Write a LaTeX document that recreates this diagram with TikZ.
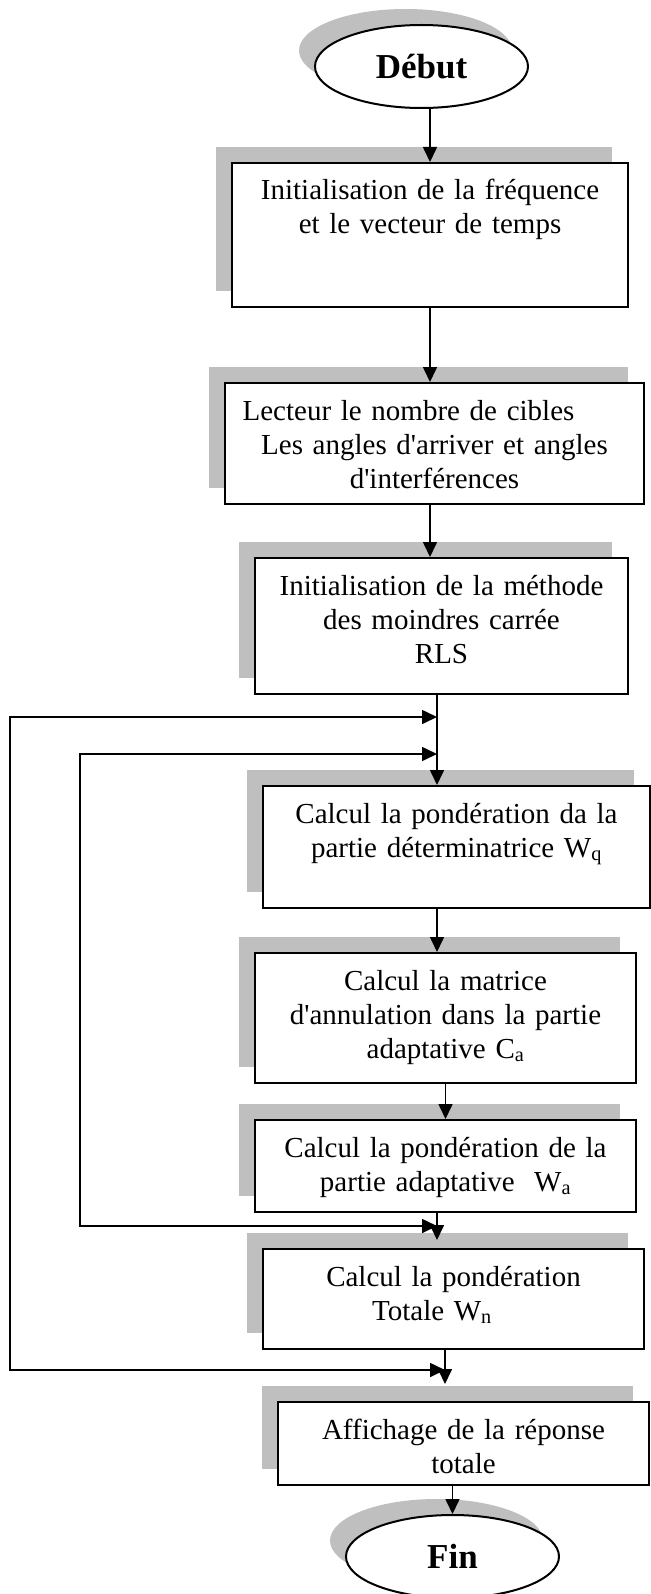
\documentclass[tikz,border=0pt]{standalone}
\usepackage{fontspec}
\setmainfont{Liberation Serif}
\usetikzlibrary{arrows.meta,shapes.geometric,shadows}

\tikzset{
  stage/.style={draw, fill=white, line width=2pt, anchor=north west, align=center,
    inner xsep=0pt, inner ysep=0pt, text height=37pt,
    font=\fontsize{29}{34}\selectfont,
    drop shadow={shadow xshift=-16pt, shadow yshift=16pt, fill=black!25, opacity=1}},
  terminal/.style={ellipse, draw, fill=white, line width=2pt, inner sep=0pt,
    minimum width=213pt, minimum height=83pt,
    font=\fontsize{35}{40}\selectfont\bfseries,
    drop shadow={shadow xshift=-16pt, shadow yshift=16pt, fill=black!25, opacity=1}}
}

\begin{document}
\begin{tikzpicture}[x=1pt, y=-1pt, line width=1.6pt, >={Triangle[length=15pt,width=14pt]}]
\useasboundingbox (0,0) rectangle (650,1594);
\node[terminal] (debut) at (421.5,66.5) {Début};
\node[stage, text width=396pt, text depth=107pt] (init) at (231,162) {Initialisation de la fréquence\\ et le vecteur de temps};
\node[stage, text width=419pt, text depth=84pt] (lecture) at (224,382) {Lecteur le nombre de cibles\rule{52pt}{0pt}\\ Les angles d\textquotesingle arriver et angles\\ d\textquotesingle interférences};
\node[stage, text width=373pt, text depth=99pt] (rls) at (254,557) {Initialisation de la méthode\\ des moindres carrée\\ RLS};
\node[stage, text width=387pt, text depth=85pt] (wq) at (262,785) {Calcul la pondération da la\\ partie déterminatrice W\textsubscript{q}};
\node[stage, text width=381pt, text depth=93pt] (ca) at (254,952) {Calcul la matrice\\ d\textquotesingle annulation dans la partie\\ adaptative C\textsubscript{a}};
\node[stage, text width=381pt, text depth=55pt] (wa) at (254,1119) {Calcul la pondération de la\\ partie adaptative~~W\textsubscript{a}};
\node[stage, text width=381pt, text depth=63pt] (wn) at (262,1248) {Calcul la pondération\\ Totale W\textsubscript{n}\rule{43pt}{0pt}};
\node[stage, text width=371pt, text depth=46pt] (affich) at (277,1401) {Affichage de la réponse\\ totale};
\node[terminal] (fin) at (452.5,1556.5) {Fin};
\coordinate (ja) at (437,717);
\coordinate (jb) at (437,754);
\coordinate (jc) at (437,1226);
\coordinate (jd) at (445,1370);
\coordinate (la) at (10,717);
\coordinate (lb) at (80,754);
\draw[->] (debut.south -| init.north) -- (init.north);
\draw[->] (init.south) -- (init.south |- lecture.north);
\draw[->] (lecture.south -| init.south) -- (init.south |- rls.north);
\draw[->] (rls.south -| ja) -- (ja |- wq.north);
\draw[->] (wq.south -| ja) -- (ja |- ca.north);
\draw[->] (ca.south) -- (wa.north);
\draw[->, shorten >=8pt] (wa.south -| jc) -- (jc |- wn.north);
\draw[->, shorten >=17pt] (wn.south -| jd) -- (jd |- affich.north);
\draw[->] (affich.south -| fin.north) -- (fin.north);
\draw[<->] (ja) -- (la) |- (jd);
\draw[<->] (jb) -- (lb) |- (jc);
\end{tikzpicture}
\end{document}
